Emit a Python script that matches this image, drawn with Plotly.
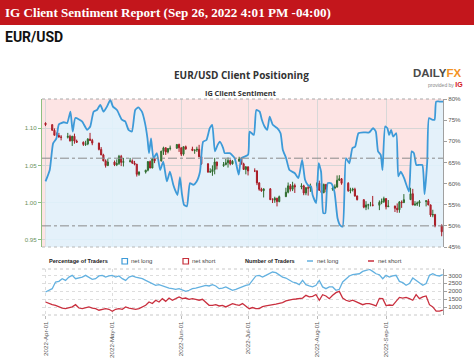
import pandas as pd
import plotly.graph_objects as go

# ---------------- DATA ----------------
# IG client sentiment: % of traders net long (days since 2022-04-01)
sent_day = [0, 1.9, 3.4, 4.9, 6.0, 8.2, 9.7, 11.2, 12.2, 13.4, 16.4, 18.7, 20.1, 21.6, 23.1, 24.6, 26.1, 27.6,
            29.1, 30.3, 32.1, 34.3, 35.8, 37.3, 38.8, 40.3, 41.7, 43.3, 44.7, 45.8, 46.5, 47.4, 48.5, 50.0, 51.5,
            52.9, 54.5, 55.9, 57.4, 58.2, 59.3, 60.4, 61.3, 62.2, 63.5, 64.9, 66.4, 67.9, 69.4, 70.8, 72.3, 73.8,
            74.9, 76.1, 77.3, 78.3, 79.8, 80.5, 82.8, 85.0, 86.8, 88.0, 91.0, 91.7, 93.6, 94.7, 96.2, 97.2, 98.4,
            99.6, 100.7, 102.1, 104.1, 105.6, 106.6, 108.1, 109.6, 111.9, 113.6, 115.3, 116.6, 117.8, 119.3, 120.0,
            121.6, 122.7, 123.8, 124.8, 125.7, 126.8, 128.3, 129.8, 131.2, 132.4, 133.5, 135.0, 136.5, 137.9, 139.1,
            140.6, 143.2, 145.4, 147.2, 148.4, 149.4, 150.6, 151.4, 152.6, 153.6, 154.4, 155.3, 156.2, 157.6, 158.5,
            159.6, 161.1, 163.3, 164.5, 165.5, 166.6, 167.8, 169.3, 170.3, 171.5, 172.3, 173.7, 174.8, 175.5, 177.0,
            178.6]
sent_pct = [60.5, 63.2, 69.5, 70.7, 74.0, 74.5, 74.3, 77.0, 72.3, 75.5, 74.7, 72.7, 73.5, 77.0, 77.4, 78.6, 77.0, 78.2,
            79.8, 78.2, 77.4, 75.1, 74.7, 72.7, 72.3, 77.4, 78.0, 77.0, 74.3, 70.7, 67.2, 70.7, 66.0, 67.2, 63.2,
            65.2, 60.5, 62.8, 59.7, 58.5, 57.3, 61.5, 57.5, 55.0, 54.6, 60.1, 59.7, 60.5, 62.8, 69.9, 70.3, 73.1,
            73.9, 67.6, 69.1, 69.9, 68.4, 67.2, 67.2, 66.0, 62.1, 66.0, 66.8, 72.3, 71.5, 77.4, 77.0, 75.1, 73.5,
            72.7, 75.8, 73.9, 73.1, 71.9, 68.0, 66.0, 63.2, 62.5, 61.3, 65.6, 60.9, 59.7, 59.3, 57.3,
            55.4, 64.8, 62.8, 53.0, 53.0, 60.1, 60.1, 58.1, 51.8, 50.1, 49.8, 66.0, 64.8, 68.4, 68.7,
            71.9, 72.1, 72.1, 73.1, 72.3, 67.6, 66.8, 63.2, 73.5, 73.1, 71.5, 72.7, 71.1, 71.9, 61.7,
            62.8, 61.3, 58.1, 67.6, 67.2, 64.4, 64.4, 64.4, 57.5, 65.2, 75.5, 75.1, 75.1, 79.4, 79.4,
            79.4]

# EUR/USD daily candles (business days 2022-04-01 .. 2022-09-26)
px_open = [1.1065, 1.1045, 1.0970, 1.0904, 1.0900, 1.0880, 1.0876, 1.0888, 1.0828, 1.0890, 1.0826, 1.0810, 1.0780,
           1.0787, 1.0852, 1.0835, 1.0798, 1.0714, 1.0640, 1.0560, 1.0497,
           1.0545, 1.0507, 1.0525, 1.0620, 1.0540, 1.0550, 1.0560, 1.0530, 1.0515, 1.0380, 1.0410, 1.0435, 1.0550,
           1.0465, 1.0585, 1.0560, 1.0690, 1.0735, 1.0680, 1.0725, 1.0730, 1.0780,
           1.0735, 1.0650, 1.0750, 1.0720, 1.0700, 1.0705, 1.0715, 1.0615, 1.0520, 1.0410, 1.0415, 1.0445, 1.0545,
           1.0495, 1.0510, 1.0535, 1.0565, 1.0520, 1.0555, 1.0585, 1.0520, 1.0445,
           1.0480, 1.0425, 1.0425, 1.0265, 1.0180, 1.0160, 1.0185, 1.0040, 1.0035, 1.0060, 1.0015, 1.0080, 1.0140,
           1.0225, 1.0180, 1.0230, 1.0210, 1.0225, 1.0130, 1.0200, 1.0195,
           1.0225, 1.0260, 1.0165, 1.0135, 1.0245, 1.0180, 1.0195, 1.0210, 1.0300, 1.0320, 1.0260, 1.0160, 1.0170,
           1.0180, 1.0090, 1.0040, 0.9940, 0.9970, 0.9970, 0.9970, 0.9965, 1.0005, 1.0015,
           1.0055, 0.9945, 0.9955, 0.9925, 0.9905, 1.0010, 1.0000, 1.0040, 1.0120, 0.9970, 0.9980, 0.9995, 1.0015,
           1.0025, 0.9970, 0.9835, 0.9840, 0.9690]
px_high = [1.1076, 1.1050, 1.0995, 1.0940, 1.0935, 1.0905, 1.0935, 1.0910, 1.0895, 1.0925, 1.0845, 1.0820, 1.0830,
           1.0865, 1.0935, 1.0855, 1.0805, 1.0745, 1.0655, 1.0580, 1.0590,
           1.0565, 1.0580, 1.0640, 1.0640, 1.0600, 1.0600, 1.0580, 1.0560, 1.0520, 1.0420, 1.0440, 1.0555, 1.0565,
           1.0600, 1.0600, 1.0695, 1.0750, 1.0740, 1.0730, 1.0765, 1.0785, 1.0790,
           1.0740, 1.0750, 1.0765, 1.0750, 1.0710, 1.0750, 1.0775, 1.0635, 1.0530, 1.0460, 1.0500, 1.0600, 1.0550,
           1.0545, 1.0585, 1.0605, 1.0580, 1.0570, 1.0615, 1.0605, 1.0535, 1.0490,
           1.0485, 1.0460, 1.0435, 1.0275, 1.0200, 1.0190, 1.0195, 1.0060, 1.0080, 1.0065, 1.0095, 1.0200, 1.0270,
           1.0250, 1.0280, 1.0255, 1.0260, 1.0240, 1.0210, 1.0235, 1.0255,
           1.0275, 1.0295, 1.0195, 1.0255, 1.0250, 1.0225, 1.0245, 1.0365, 1.0368, 1.0330, 1.0275, 1.0200, 1.0200,
           1.0200, 1.0095, 1.0045, 1.0020, 0.9985, 1.0010, 1.0090, 1.0030, 1.0055, 1.0080,
           1.0060, 1.0035, 0.9960, 0.9990, 1.0020, 1.0030, 1.0115, 1.0200, 1.0185, 1.0020, 1.0015, 1.0035, 1.0030,
           1.0050, 0.9975, 0.9905, 0.9850, 0.9710]
px_low = [1.1026, 1.0965, 1.0900, 1.0880, 1.0870, 1.0835, 1.0860, 1.0820, 1.0760, 1.0790, 1.0800, 1.0760, 1.0760,
          1.0770, 1.0825, 1.0770, 1.0700, 1.0636, 1.0555, 1.0470, 1.0490,
          1.0490, 1.0490, 1.0505, 1.0490, 1.0485, 1.0540, 1.0520, 1.0500, 1.0350, 1.0360, 1.0390, 1.0420, 1.0460,
          1.0460, 1.0530, 1.0550, 1.0640, 1.0640, 1.0660, 1.0700, 1.0720, 1.0680,
          1.0625, 1.0630, 1.0710, 1.0690, 1.0655, 1.0680, 1.0610, 1.0505, 1.0400, 1.0400, 1.0360, 1.0380, 1.0445,
          1.0480, 1.0500, 1.0470, 1.0500, 1.0510, 1.0550, 1.0510, 1.0440, 1.0380,
          1.0365, 1.0410, 1.0235, 1.0160, 1.0145, 1.0070, 1.0035, 0.9995, 0.9998, 0.9950, 1.0005, 1.0080, 1.0125,
          1.0150, 1.0155, 1.0130, 1.0180, 1.0100, 1.0100, 1.0095, 1.0145,
          1.0200, 1.0160, 1.0125, 1.0125, 1.0140, 1.0160, 1.0180, 1.0200, 1.0290, 1.0240, 1.0145, 1.0125, 1.0150,
          1.0080, 1.0030, 0.9925, 0.9900, 0.9910, 0.9950, 0.9950, 0.9900, 0.9980, 0.9995,
          0.9910, 0.9945, 0.9875, 0.9865, 0.9865, 0.9930, 1.0000, 1.0040, 0.9965, 0.9955, 0.9955, 0.9945, 0.9950,
          0.9965, 0.9810, 0.9805, 0.9670, 0.9550]
px_close = [1.1045, 1.0970, 1.0904, 1.0900, 1.0880, 1.0876, 1.0888, 1.0828, 1.0890, 1.0826, 1.0810, 1.0780, 1.0787,
            1.0852, 1.0835, 1.0798, 1.0714, 1.0640, 1.0560, 1.0497, 1.0545,
            1.0507, 1.0525, 1.0620, 1.0540, 1.0550, 1.0560, 1.0530, 1.0515, 1.0380, 1.0410, 1.0435, 1.0550, 1.0465,
            1.0585, 1.0560, 1.0690, 1.0735, 1.0680, 1.0725, 1.0730, 1.0780, 1.0735,
            1.0650, 1.0750, 1.0720, 1.0700, 1.0705, 1.0715, 1.0615, 1.0520, 1.0410, 1.0415, 1.0445, 1.0545, 1.0495,
            1.0510, 1.0535, 1.0565, 1.0520, 1.0555, 1.0585, 1.0520, 1.0445, 1.0480,
            1.0425, 1.0425, 1.0265, 1.0180, 1.0160, 1.0185, 1.0040, 1.0035, 1.0060, 1.0015, 1.0080, 1.0140, 1.0225,
            1.0180, 1.0230, 1.0210, 1.0225, 1.0130, 1.0200, 1.0195, 1.0225,
            1.0260, 1.0165, 1.0135, 1.0245, 1.0180, 1.0195, 1.0210, 1.0300, 1.0320, 1.0260, 1.0160, 1.0170, 1.0180,
            1.0090, 1.0040, 0.9940, 0.9970, 0.9970, 0.9970, 0.9965, 1.0005, 1.0015, 1.0055,
            0.9945, 0.9955, 0.9925, 0.9905, 1.0010, 1.0000, 1.0040, 1.0120, 0.9970, 0.9980, 0.9995, 1.0015, 1.0025,
            0.9970, 0.9835, 0.9840, 0.9690, 0.9610]

# Number of traders (days since 2022-04-01)
trader_day = [0, 1.5, 3, 4.5, 6, 7.5, 9, 10.5, 12, 13.5, 15, 16.5, 18, 19.5, 21, 22.5, 24, 25.5, 27, 28.5,
              30, 31.5, 33, 34.5, 36, 37.5, 39, 40.5, 42, 43.5, 45, 46.5, 48, 49.5, 51, 52.5, 54, 55.5, 57, 58.5,
              60, 61.5, 63, 64.5, 66, 67.5, 69, 70.5, 72, 73.5, 75, 76.5, 78, 79.5, 81, 82.5, 84, 85.5, 87, 88.5,
              90, 91.5, 93, 94.5, 96, 97.5, 99, 100.5, 102, 103.5, 105, 106.5, 108, 109.5, 111, 112.5, 114, 115.5,
              117, 118.5, 120, 121.5, 123, 124.5, 126, 127.5, 129, 130.5, 132, 133.5, 135, 136.5, 138, 139.5, 141,
              142.5, 144, 145.5, 147, 148.5, 150, 151.5, 153, 154.5, 156, 157.5, 159, 160.5, 162, 163.5, 165, 166.5,
              168, 169.5, 171, 172.5, 174, 175.5, 177, 178.5]
long_traders = [1950, 2060, 2160, 2580, 2620, 2790, 2680, 2890, 3000, 2790,
                2830, 2890, 3000, 2890, 2750, 2790, 2960, 3000, 2890, 2960,
                3000, 2890, 2960, 2790, 2680, 2890, 2960, 2890, 2830, 2790,
                2680, 2580, 2480, 2370, 2410, 2330, 2270, 2200, 2160, 2120,
                2160, 2060, 1990, 2060, 2160, 2200, 2270, 2330, 2370, 2330,
                2410, 2330, 2160, 2200, 2270, 2160, 2060, 2120, 2200, 2330,
                2370, 2410, 2680, 2960, 3000, 2890, 3000, 3100, 3210, 3170,
                3040, 2890, 2830, 2680, 2580, 2520, 2410, 2680, 2410, 2330,
                2270, 2370, 2680, 2270, 2160, 2270, 2270, 2060, 2120, 2580,
                2790, 2960, 3040, 3080, 3100, 3250, 3310, 3380, 3250, 3100,
                3040, 2790, 3000, 2890, 2960, 3000, 2620, 2540, 2370, 2480,
                2830, 2680, 2540, 2370, 2480, 3000, 3100, 3000, 2960, 3040]
short_traders = [1320, 1220, 1150, 1110, 1010, 940, 900, 940, 1010, 1150,
                 940, 900, 940, 1010, 940, 900, 800, 860, 900, 860,
                 740, 860, 900, 860, 1010, 940, 900, 860, 900, 1010,
                 1110, 1320, 1220, 1430, 1320, 1530, 1360, 1570, 1430, 1530,
                 1640, 1530, 1570, 1490, 1530, 1490, 1430, 1490, 1320, 1110,
                 1110, 1150, 1070, 1110, 1010, 1110, 1220, 1150, 1110, 1220,
                 1070, 900, 970, 900, 900, 1030, 1070, 1110, 1110, 1180,
                 1240, 1280, 1390, 1450, 1490, 1510, 1530, 1570, 1740, 1640,
                 1680, 1790, 1430, 1780, 1700, 1530, 1740, 1910, 1990, 1570,
                 1430, 1360, 1430, 1320, 1220, 1150, 1220, 1220, 1150, 1070,
                 1550, 1530, 1090, 1130, 1110, 1360, 1610, 1570, 1610, 1530,
                 1430, 1780, 1530, 1640, 1700, 1150, 1010, 740, 740, 800]

pct_ticks = [45, 50, 55, 60, 65, 70, 75, 80]
price_ticks = [0.95, 1.00, 1.05, 1.10]
count_ticks = [1000, 1500, 2000, 2500, 3000]
ref_levels_pct = [50, 66]

# ---------------- BUILD ----------------
base = pd.Timestamp("2022-04-01")
sent_x = [base + pd.Timedelta(days=d) for d in sent_day]
trader_x = [base + pd.Timedelta(days=d) for d in trader_day]
candle_x = pd.bdate_range("2022-04-01", "2022-09-26")
assert len(candle_x) == len(px_close) == len(px_open) == len(px_high) == len(px_low)
assert len(sent_day) == len(sent_pct)
assert len(trader_day) == len(long_traders) == len(short_traders)

W, H = 474, 359
def fx(x): return x / W
def fy(y): return 1 - y / H

X0, X1 = 42, 443
MAIN_T, MAIN_B = 99, 247
SUB_T, SUB_B = 269, 315
xr = ["2022-03-30 10:00", "2022-09-26 14:00"]

BLUE = "#3d9ad8"
RED = "#c62f3a"
TICKFONT = dict(family="Liberation Sans, Arial, sans-serif", size=6.2, color="#555555")

fig = go.Figure()
fig.add_trace(go.Scatter(x=sent_x, y=sent_pct, mode="lines",
                         line=dict(width=0, shape="spline", smoothing=0.5, color=BLUE),
                         fill="tozeroy", fillcolor="rgba(224,243,254,0.86)",
                         xaxis="x", yaxis="y", hoverinfo="skip", showlegend=False))
fig.add_trace(go.Candlestick(x=candle_x, open=px_open, high=px_high, low=px_low, close=px_close,
                             xaxis="x", yaxis="y2", whiskerwidth=0,
                             increasing=dict(line=dict(color="#2e6b2e", width=1), fillcolor="#4a8f4a"),
                             decreasing=dict(line=dict(color="#a81c26", width=1), fillcolor="#c62f3a"),
                             showlegend=False))
fig.add_trace(go.Scatter(x=sent_x, y=sent_pct, mode="lines",
                         line=dict(width=1.8, shape="spline", smoothing=0.5, color=BLUE),
                         xaxis="x", yaxis="y3", showlegend=False))
fig.add_trace(go.Scatter(x=trader_x, y=long_traders, mode="lines",
                         line=dict(width=1.3, color="#63b1e0"), xaxis="x2", yaxis="y4", showlegend=False))
fig.add_trace(go.Scatter(x=trader_x, y=short_traders, mode="lines",
                         line=dict(width=1.3, color="#c92f3e"), xaxis="x2", yaxis="y4", showlegend=False))

dom_x = [fx(X0), fx(X1)]
layout = dict(
    width=W, height=H, margin=dict(l=0, r=0, t=0, b=0, pad=0),
    paper_bgcolor="white", plot_bgcolor="rgba(0,0,0,0)", showlegend=False,
    xaxis=dict(domain=dom_x, anchor="y", type="date", range=xr, showticklabels=False, ticks="",
               showgrid=True, gridcolor="#d8d8d8", gridwidth=1, dtick="M1", tick0="2022-04-01",
               zeroline=False, showline=False, rangeslider=dict(visible=False), automargin=False),
    yaxis=dict(domain=[fy(MAIN_B), fy(MAIN_T)], anchor="x", side="right", range=[45, 80],
               tickvals=pct_ticks, ticktext=[f"{v}%" for v in pct_ticks], showgrid=False, zeroline=False,
               showline=True, linecolor="#a0a0a0", linewidth=1, ticks="outside", ticklen=3,
               tickcolor="#a0a0a0", tickfont=TICKFONT, automargin=False),
    yaxis2=dict(overlaying="y", anchor="x", side="left", range=[0.9406, 1.1389],
                tickvals=price_ticks, tickformat=".2f", showgrid=True, gridcolor="#d6d6d6",
                zeroline=False, showline=True, linecolor="#8fbf7f", linewidth=1, ticks="outside",
                ticklen=3, tickcolor="#8fbf7f", automargin=False,
                tickfont=dict(family="Liberation Sans, Arial, sans-serif", size=6.2, color="#6b8f5b")),
    yaxis3=dict(overlaying="y", anchor="x", side="right", range=[45, 80], visible=False),
    xaxis2=dict(domain=dom_x, anchor="y4", type="date", range=xr, dtick="M1", tick0="2022-04-01",
                tickformat="%Y-%b-%d", tickangle=-90, tickfont=TICKFONT, ticks="outside", ticklen=3,
                tickcolor="#bbbbbb", showgrid=True, gridcolor="#dddddd", griddash="dot",
                zeroline=False, showline=False, automargin=False),
    yaxis4=dict(domain=[fy(SUB_B), fy(SUB_T)], anchor="x2", side="right", range=[500, 3400],
                tickvals=count_ticks, showgrid=True, gridcolor="#dddddd", griddash="dot",
                zeroline=False, showline=True, linecolor="#a0a0a0", linewidth=1, ticks="outside",
                ticklen=3, tickcolor="#a0a0a0", tickfont=TICKFONT, automargin=False),
)
fig.update_layout(**layout)

shapes = [
    # header bar
    dict(type="rect", xref="paper", yref="paper", x0=0, x1=1, y0=fy(25), y1=1,
         fillcolor="#c3161c", line=dict(width=0), layer="below"),
    # pink background of main plot
    dict(type="rect", xref="x domain", yref="y domain", x0=0, x1=1, y0=0, y1=1,
         fillcolor="#fde4e4", line=dict(width=0), layer="below"),
    # dotted borders
    dict(type="line", xref="paper", yref="paper", x0=fx(X0), x1=fx(X1), y0=fy(MAIN_T), y1=fy(MAIN_T),
         line=dict(color="#a8a8a8", width=1, dash="dot")),
    dict(type="line", xref="paper", yref="paper", x0=fx(X0), x1=fx(X1), y0=fy(MAIN_B), y1=fy(MAIN_B),
         line=dict(color="#b8b8b8", width=1, dash="dot")),
    dict(type="line", xref="paper", yref="paper", x0=fx(X0), x1=fx(X1), y0=fy(SUB_T), y1=fy(SUB_T),
         line=dict(color="#c8c8c8", width=1, dash="dot")),
    dict(type="line", xref="paper", yref="paper", x0=fx(X0), x1=fx(X1), y0=fy(SUB_B), y1=fy(SUB_B),
         line=dict(color="#c8c8c8", width=1, dash="dot")),
]
for lv in ref_levels_pct:
    shapes.append(dict(type="line", xref="x domain", yref="y", x0=0, x1=1, y0=lv, y1=lv,
                       line=dict(color="#8a8a8a", width=1, dash="dashdot"), layer="above"))

# legend row marks
LY = 261
shapes += [
    dict(type="rect", xref="paper", yref="paper", x0=fx(122), x1=fx(127.5), y0=fy(264), y1=fy(258.5),
         line=dict(color=BLUE, width=1.2), fillcolor="white"),
    dict(type="rect", xref="paper", yref="paper", x0=fx(183), x1=fx(188.5), y0=fy(264), y1=fy(258.5),
         line=dict(color=RED, width=1.2), fillcolor="white"),
    dict(type="line", xref="paper", yref="paper", x0=fx(307), x1=fx(313), y0=fy(LY), y1=fy(LY),
         line=dict(color="#63b1e0", width=1.5)),
    dict(type="line", xref="paper", yref="paper", x0=fx(368), x1=fx(374), y0=fy(LY), y1=fy(LY),
         line=dict(color="#c92f3e", width=1.5)),
]
fig.update_layout(shapes=shapes)

def note(x, y, text, size, color, family, xanchor="left", weight=400):
    return dict(x=fx(x), y=fy(y), xref="paper", yref="paper", text=text, showarrow=False,
                xanchor=xanchor, yanchor="middle", borderpad=0,
                font=dict(size=size, color=color, family=family, weight=weight))

SANS = "Liberation Sans, Arial, sans-serif"
annotations = [
    note(4, 12, "IG Client Sentiment Report (Sep 26, 2022 4:01 PM -04:00)", 13.1, "white",
         "Liberation Serif, DejaVu Serif, serif", weight=700),
    note(4, 37, "EUR/USD", 14, "#111111", "Roboto, Liberation Sans, sans-serif", weight=700),
    note(241, 75, "EUR/USD Client Positioning", 10, "#333333", "Open Sans, Liberation Sans, sans-serif",
         xanchor="center", weight=700),
    note(240, 93, "IG Client Sentiment", 7.3, "#333333", "Open Sans, Liberation Sans, sans-serif",
         xanchor="center", weight=700),
    note(437, 73, "DAILY<span style='color:#f39223'>FX</span>", 11.5, "#4a4a4a", SANS,
         xanchor="center", weight=700),
    note(464, 84.5, "provided by <b><span style='color:#d2141c;font-size:7px'>IG</span></b>", 5, "#888888",
         SANS, xanchor="right"),
    note(48, LY, "Percentage of Traders", 5.6, "#222222", SANS, weight=700),
    note(130, LY, "net long", 6, "#444444", SANS),
    note(191, LY, "net short", 6, "#444444", SANS),
    note(244, LY, "Number of Traders", 5.6, "#222222", SANS, weight=700),
    note(316, LY, "net long", 6, "#444444", SANS),
    note(377, LY, "net short", 6, "#444444", SANS),
]
fig.update_layout(annotations=annotations)

fig.write_html("out.html",
               config={"displayModeBar": False, "responsive": False},
               post_script="var gd=document.getElementById('{plot_id}');"
                           "gd.style.position='fixed';gd.style.left='0px';gd.style.top='0px';")
